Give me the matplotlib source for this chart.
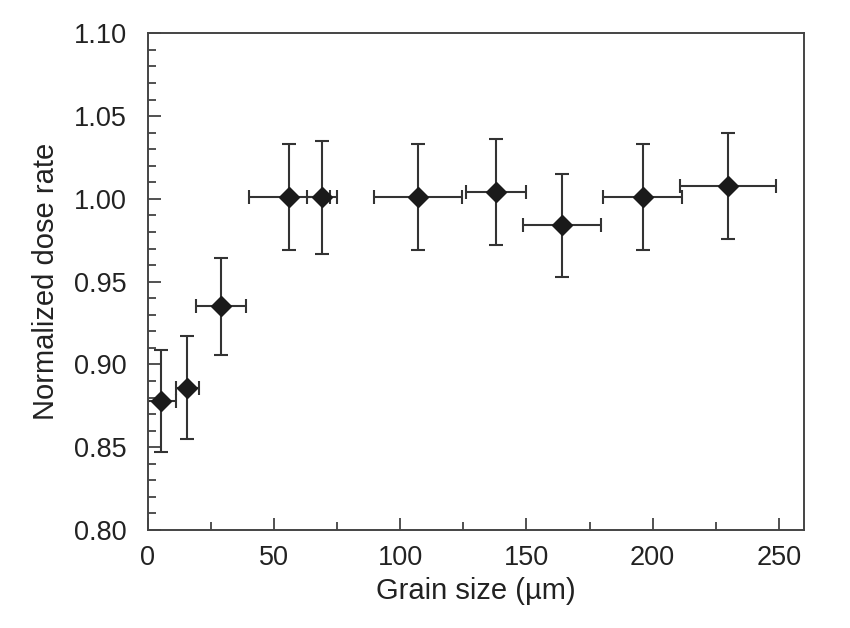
import matplotlib
matplotlib.use('Agg')
import matplotlib.pyplot as plt
from matplotlib.ticker import MultipleLocator, FormatStrFormatter

plt.rcParams['font.family'] = ['Liberation Sans', 'DejaVu Sans']

# data
grain_size = [5, 15.6, 29, 56, 69, 107, 138, 164, 196, 230]
dose_rate = [0.878, 0.886, 0.935, 1.001, 1.001, 1.001, 1.004, 0.984, 1.001, 1.008]
x_err = [6, 4.5, 10, 16, 6, 17.6, 12, 15.5, 15.8, 19]
y_err = [0.031, 0.031, 0.029, 0.032, 0.034, 0.032, 0.032, 0.031, 0.032, 0.032]

fig = plt.figure(figsize=(8.5, 6.28), dpi=100)
ax = fig.add_axes([0.174, 0.156, 0.772, 0.791])

ax.errorbar(grain_size, dose_rate, xerr=x_err, yerr=y_err, fmt='D',
            color='#1a1a1a', ecolor='#333333', elinewidth=1.5, capsize=5,
            capthick=1.5, markersize=10.5)

ax.set_xlim(0, 260)
ax.set_ylim(0.80, 1.10)
ax.xaxis.set_major_locator(MultipleLocator(50))
ax.xaxis.set_minor_locator(MultipleLocator(25))
ax.yaxis.set_major_locator(MultipleLocator(0.05))
ax.yaxis.set_minor_locator(MultipleLocator(0.01))
ax.yaxis.set_major_formatter(FormatStrFormatter('%.2f'))

ax.tick_params(which='both', direction='in', color='#333333', width=1.2,
               labelsize=19.5, labelcolor='#222222')
ax.tick_params(which='major', length=9)
ax.tick_params(which='minor', length=6)
ax.tick_params(axis='y', which='major', pad=15)
ax.tick_params(axis='x', which='major', pad=11)
for s in ax.spines.values():
    s.set_linewidth(1.4)
    s.set_color('#444444')

ax.set_xlabel('Grain size (\u00b5m)', fontsize=21, color='#222222', labelpad=4)
ax.set_ylabel('Normalized dose rate', fontsize=21, color='#222222', labelpad=10)

plt.savefig('out.png', dpi=100)
plt.close()
